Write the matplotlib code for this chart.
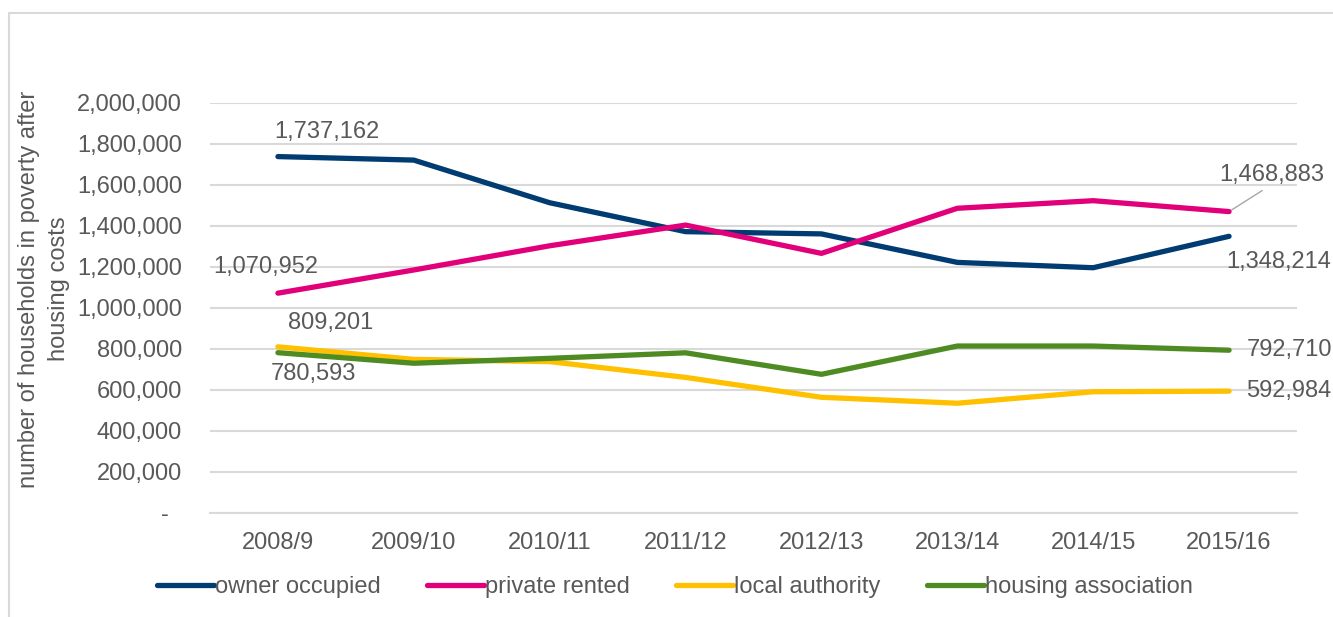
import matplotlib.pyplot as plt
import matplotlib.patches as mpatches
import numpy as np

plt.rcParams['font.family'] = ['Liberation Sans', 'DejaVu Sans']

######################### Data #########################

years = ['2008/9', '2009/10', '2010/11', '2011/12', '2012/13', '2013/14', '2014/15', '2015/16']
owner_occupied = [1737162, 1720000, 1512000, 1371000, 1360000, 1221000, 1195000, 1348214]
private_rented = [1070952, 1184000, 1302000, 1403000, 1265000, 1485000, 1522000, 1468883]
local_authority = [809201, 748000, 737000, 660000, 563000, 534000, 590000, 592984]
housing_association = [780593, 729000, 753000, 780000, 675000, 813000, 813000, 792710]

series_names = ['owner occupied', 'private rented', 'local authority', 'housing association']
series_colors = ['#003B71', '#E2007A', '#FFC000', '#4E8B22']

yticks = np.arange(0, 2000001, 200000)
ytick_labels = ['-  '] + ['{:,}'.format(v) for v in yticks[1:]]

txt_col = '#595959'
grid_col = '#D9D9D9'
fs = 17

######################### Plot #########################

fig = plt.figure(figsize=(13.33, 6.17), dpi=100)
ax = fig.add_axes([210/1333, 1-512.7/617, (1297-210)/1333, 410/617])

# outer chart border (Excel style)
fig.patches.append(mpatches.Rectangle((9/1333, -0.1), 1.2, 1-13/617+0.1,
                                      transform=fig.transFigure, fill=False,
                                      edgecolor=grid_col, lw=1.5))

x = np.arange(len(years))
all_series = [owner_occupied, private_rented, local_authority, housing_association]
for vals, name, col in zip(all_series, series_names, series_colors):
    ax.plot(x, vals, color=col, lw=3.8, label=name, solid_capstyle='round',
            solid_joinstyle='round')

ax.set_xlim(-0.5, len(years)-0.5)
ax.set_ylim(0, 2000000)
ax.set_yticks(yticks)
ax.set_yticklabels(ytick_labels)
ax.set_xticks(x)
ax.set_xticklabels(years)
ax.tick_params(axis='both', length=0, labelsize=fs, labelcolor=txt_col)
ax.tick_params(axis='y', pad=20)
ax.tick_params(axis='x', pad=14)
ax.grid(axis='y', color=grid_col, lw=1.5)
ax.set_axisbelow(True)
for s in ['top', 'right', 'left']:
    ax.spines[s].set_visible(False)
ax.spines['bottom'].set_color(grid_col)
ax.spines['bottom'].set_linewidth(1.5)

# data labels (offsets in points)
px = 0.72
def lab(i, vals, dx, dy, **kw):
    ax.annotate('{:,}'.format(vals[i]), xy=(i, vals[i]), xytext=(dx*px, dy*px),
                textcoords='offset points', ha='center', va='center',
                fontsize=fs, color=txt_col, annotation_clip=False, **kw)

lab(0, owner_occupied, 49, 25)
lab(0, private_rented, -12, 26.6)
lab(0, local_authority, 53, 24)
lab(0, housing_association, 36, -21.3)
lab(7, private_rented, 43, 36.3,
    arrowprops=dict(arrowstyle='-', color='#A6A6A6', lw=1, shrinkA=2, shrinkB=2,
                    relpos=(0.47, 0.0)))
lab(7, owner_occupied, 50, -25.7)
lab(7, housing_association, 60, 0)
lab(7, local_authority, 60, 0)

fig.text(44/1333, 1-289/617, 'number of households in poverty after\nhousing costs',
         rotation=90, ha='center', va='center', fontsize=fs, color=txt_col,
         multialignment='center', linespacing=1.45)

leg = fig.legend(loc='center', bbox_to_anchor=(675/1333, 1-587/617), ncol=4,
                 frameon=False, fontsize=fs, handlelength=2.4, handletextpad=0.05,
                 columnspacing=1.97, labelcolor=txt_col)

fig.savefig('out.png', dpi=100)
